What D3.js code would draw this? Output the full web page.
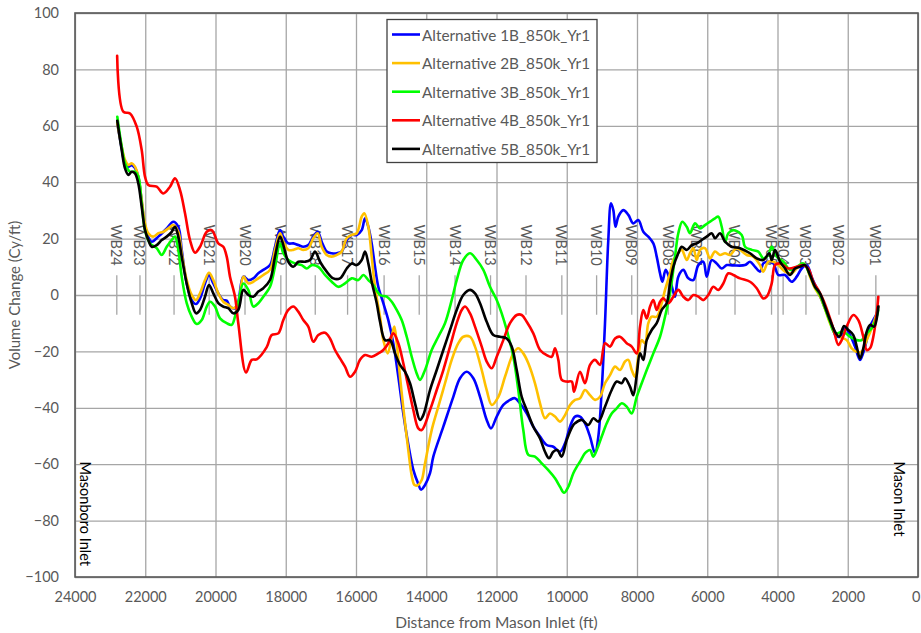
<!DOCTYPE html>
<html>
<head>
<meta charset="utf-8">
<script src="https://cdn.jsdelivr.net/npm/d3@7"></script>
<style>
  html, body { margin: 0; padding: 0; background: #fff; }
  svg { display: block; font-family: Lato, "Open Sans", sans-serif; }
</style>
</head>
<body>
<svg id="chart" width="921" height="633"></svg>
<script>
// Volume change profiles along the island, distance measured from Mason Inlet (ft)
// Each series: [distance (ft), volume change (cy/ft)]
const alt1B = [
  [22796,61],[22670,52],[22576,46.5],[22482,45.5],[22386,46],[22292,45],[22198,42],[22101,33],[22007,24.5],[21913,20.5],
  [21816,18.9],[21628,20.7],[21389,23.6],[21201,26],[21059,24.2],[20962,16],[20820,4.1],[20677,-1.8],[20555,-3.2],[20441,-1.2],
  [20299,4.1],[20185,7.1],[20062,4.1],[19920,0.6],[19778,-1.8],[19681,-2],[19587,-4.1],[19445,-4.7],[19351,-2.4],[19208,6.5],
  [19066,5.3],[18924,5.9],[18781,7.7],[18639,8.9],[18448,10.6],[18306,17.1],[18163,23],[18069,20.7],[17927,18.3],[17785,18.3],
  [17642,17.7],[17500,17.1],[17358,17.7],[17215,20.7],[17090,22.4],[16977,18.9],[16834,15.4],[16691,14.8],[16549,14.8],[16407,15.4],
  [16264,19.5],[16122,21.3],[15980,21.3],[15837,23],[15743,27.2],[15649,24.2],[15553,18.3],[15459,10],[15365,2.9],[15222,-2.9],
  [15080,-8.9],[14938,-17.1],[14795,-29],[14653,-42],[14511,-53],[14368,-62],[14226,-67],[14149,-69],[14035,-67.4],[13893,-63.2],
  [13799,-57.3],[13514,-46.7],[13230,-36.1],[13039,-29.5],[12848,-27.2],[12660,-29.5],[12469,-36.1],[12279,-44.3],[12156,-47.3],[11994,-43.1],
  [11806,-39],[11615,-37.2],[11473,-36.6],[11331,-38.4],[11140,-42],[10952,-46.7],[10761,-50.2],[10570,-53.2],[10383,-53.8],[10192,-55.6],
  [10049,-52.6],[9907,-46.7],[9765,-43.1],[9622,-43.1],[9480,-45.5],[9338,-50.2],[9195,-56.1],[9101,-50.2],[9005,-33.7],[8911,-10],
  [8817,19.5],[8740,32.5],[8674,30.1],[8612,24.2],[8532,27.8],[8390,30.1],[8247,28.4],[8105,25.4],[7963,26.6],[7820,22.4],
  [7678,20.7],[7535,18.3],[7439,13.6],[7345,7.7],[7279,4.7],[7183,8.9],[7060,5.3],[6983,1.8],[6918,-0.6],[6824,6.5],
  [6681,8.9],[6539,5.9],[6397,5.3],[6254,10.6],[6112,11.8],[6015,6.5],[5873,12.4],[5731,11.2],[5588,9.4],[5444,10.6],
  [5258,10.5],[4925,10.6],[4782,11.8],[4640,10],[4498,8.3],[4404,11.2],[4261,11.8],[4119,11.2],[3976,7.1],[3786,7.1],
  [3595,4.7],[3453,6.5],[3311,9.4],[3168,10.6],[3017,6],[2875,2],[2733,-2],[2590,-6.5],[2448,-11],[2334,-14.5],
  [2220,-14.8],[2078,-11.8],[1935,-14.2],[1793,-18.3],[1651,-23],[1508,-18.3],[1366,-11.2],[1175,-6.5],[1130,-4]
];

const alt2B = [
  [22796,60.9],[22670,52.6],[22576,47.9],[22482,46.1],[22386,46.7],[22292,45.5],[22198,42],[22101,33.7],[22007,25.4],[21913,21.9],
  [21771,20.7],[21628,21.9],[21486,22.4],[21344,23.6],[21201,24.8],[21059,22.4],[20962,14.8],[20820,5.3],[20677,0],[20555,-1.8],
  [20441,0.6],[20299,5.3],[20185,7.9],[20062,5.3],[19920,0.6],[19778,-2.4],[19635,-3.5],[19493,-4.7],[19351,-2.9],[19208,6.5],
  [19066,4.1],[18924,4.7],[18781,5.9],[18639,7.1],[18448,8.9],[18306,16],[18163,21.9],[18069,18.9],[17927,16],[17785,16],
  [17642,16.6],[17500,16],[17358,16.6],[17215,20.1],[17090,21.9],[16977,17.1],[16834,14.2],[16691,13.6],[16549,14.2],[16407,15.4],
  [16264,20.1],[16122,21.3],[15980,21.9],[15837,27.8],[15763,29],[15649,24.2],[15553,13.6],[15459,2.9],[15316,-7.7],[15222,-16],
  [15097,-20.7],[14983,-14.8],[14909,-11.2],[14841,-17.1],[14747,-29],[14653,-40],[14511,-55],[14414,-64],[14334,-67.4],[14235,-67.4],
  [14129,-65.6],[14035,-59.7],[13845,-47.9],[13657,-39.6],[13466,-31.3],[13275,-23],[13087,-17.1],[12945,-14.8],[12754,-14.8],[12612,-18.3],
  [12421,-26.6],[12279,-33.7],[12136,-39],[11948,-36.1],[11758,-29],[11521,-20.7],[11379,-18.9],[11237,-20.7],[11094,-24.2],[10904,-31.3],
  [10761,-38.4],[10619,-43.7],[10476,-42],[10334,-43.1],[10192,-44.9],[10049,-42.6],[9907,-39],[9765,-37.2],[9622,-36.6],[9480,-33.7],
  [9338,-35.5],[9195,-37.2],[9053,-36.1],[8911,-31.3],[8768,-28.4],[8626,-25.4],[8484,-26.6],[8341,-23.6],[8247,-23],[8150,-26.6],
  [8057,-29],[7963,-21.9],[7866,-16],[7772,-17.1],[7678,-10],[7581,-7.7],[7439,-7.7],[7296,-2.9],[7202,1.8],[7060,7.7],
  [6966,12.4],[6869,14.2],[6727,16],[6585,12.4],[6491,14.8],[6397,16.6],[6300,12.4],[6206,16],[6064,16.6],[5921,13],
  [5779,15.4],[5637,14.2],[5494,14.8],[5352,14.2],[5161,16.6],[4877,14.2],[4687,13.6],[4498,10.6],[4404,8.3],[4261,11.8],
  [4119,11.8],[3976,10.6],[3786,8.3],[3595,7.7],[3408,10],[3217,10.6],[3074,6.5],[2932,2.3],[2790,-0.5],[2647,-5],
  [2505,-10],[2363,-13.5],[2192,-15],[2030,-16],[1887,-18.9],[1745,-20.1],[1604,-20.1],[1460,-16],[1318,-11.8],[1175,-6.5],[1130,-4]
];

const alt3B = [
  [22796,63.2],[22670,52.6],[22576,46.7],[22434,43.7],[22292,43.7],[22198,42],[22101,32.5],[22007,23],[21864,18.3],[21674,16.6],
  [21531,14.2],[21389,17.1],[21247,19.5],[21153,20.7],[21059,16],[20962,6.5],[20820,-2.9],[20677,-7.7],[20535,-10.3],[20393,-8.9],
  [20250,-4.1],[20156,-2.4],[20014,-4.1],[19872,-8.3],[19681,-10],[19539,-10.6],[19445,-7.7],[19351,-2.9],[19208,4.1],[19066,1.8],
  [18924,-4.1],[18781,-2.9],[18639,-0.6],[18448,2.9],[18306,10],[18163,18.3],[18069,14.8],[17927,12.4],[17736,11.2],[17546,10.6],
  [17403,9.4],[17261,10.6],[17073,10],[16882,7.1],[16691,4.7],[16503,2.9],[16313,4.1],[16122,5.9],[15934,5.3],[15791,7.1],
  [15649,5.3],[15507,3.5],[15316,0],[15126,-0.6],[14983,-2.4],[14841,-5.3],[14699,-8.9],[14556,-14.8],[14414,-21.9],[14272,-27.8],
  [14178,-30.1],[14035,-26.6],[13845,-19.5],[13657,-14.8],[13466,-10],[13275,-1.8],[13133,5.3],[12945,12.4],[12754,14.8],[12563,12.4],
  [12375,8.9],[12185,2.9],[11994,-1.8],[11852,-6.5],[11709,-12.4],[11521,-21.9],[11379,-33.7],[11237,-47.9],[11094,-56.7],[10904,-57.3],
  [10713,-59.7],[10525,-62.1],[10334,-65],[10192,-68],[10078,-70.1],[9955,-68],[9813,-63.2],[9699,-60.6],[9622,-59.1],[9480,-56.1],
  [9338,-55],[9244,-57.3],[9147,-55],[9005,-50.2],[8862,-45.5],[8720,-42],[8578,-40.2],[8435,-38.4],[8293,-39.6],[8150,-42],
  [8008,-36.1],[7866,-31.3],[7723,-26.6],[7535,-20.7],[7345,-14.8],[7202,-7.7],[7060,0.6],[6918,13.6],[6824,21.9],[6710,26],
  [6585,24.2],[6491,21.9],[6348,25.4],[6206,23.6],[6064,24.8],[5921,26],[5779,27.2],[5685,27.8],[5588,24.2],[5494,18.8],
  [5400,21.9],[5258,23],[5019,21.3],[4925,17.1],[4734,16],[4546,15.4],[4404,13],[4261,14.2],[4165,17.1],[4022,13.6],
  [3834,11.8],[3644,8.9],[3453,10],[3265,11.2],[3074,7.1],[2932,2.9],[2790,0],[2647,-4.7],[2505,-9.5],[2363,-13.6],
  [2127,-13],[1935,-14.8],[1745,-16],[1604,-16],[1460,-13.6],[1318,-11.8],[1175,-7.7],[1130,-5.3]
];

const alt4B = [
  [22800,84.8],[22625,65],[22434,64.4],[22243,59.7],[22101,51.4],[22007,42],[21913,39],[21674,38.4],[21486,36],[21295,38.4],
  [21153,41.4],[21010,37.2],[20868,29],[20726,19.5],[20583,15],[20441,17.1],[20250,22.4],[20108,23],[19920,18.3],[19778,17.1],
  [19681,13.6],[19587,6.5],[19445,-0.6],[19351,-10],[19131,-27.5],[18969,-23],[18827,-22.8],[18542,-18.5],[18400,-14.2],[18212,-13.6],
  [18069,-8.9],[17927,-5.3],[17785,-4.1],[17642,-5.9],[17500,-8.9],[17358,-11.2],[17215,-16.6],[17073,-14.2],[16882,-13.4],[16740,-15.4],
  [16598,-19.5],[16455,-22.5],[16313,-25.4],[16170,-29],[16028,-27.2],[15886,-23],[15743,-21.3],[15553,-21.9],[15365,-20.7],[15222,-19.5],
  [15080,-17.1],[14938,-13.6],[14795,-17.1],[14653,-24.2],[14511,-32.5],[14368,-40.8],[14226,-47.3],[14129,-47.9],[13893,-40.8],[13702,-33.7],
  [13514,-26.6],[13323,-18.3],[13133,-10],[12990,-5.3],[12896,-4.1],[12754,-6.5],[12612,-11.2],[12421,-18.3],[12279,-23.6],[12136,-26],
  [11994,-21.9],[11806,-16],[11615,-10],[11424,-7.1],[11282,-7.1],[11140,-9.5],[10952,-13.6],[10761,-19.5],[10570,-21.3],[10428,-21.9],
  [10334,-18.9],[10240,-23],[10143,-30.1],[10001,-30.7],[9859,-30.7],[9793,-34.3],[9622,-27.2],[9480,-31.3],[9338,-24.8],[9195,-23],
  [9053,-24.8],[8911,-17.1],[8768,-18.3],[8626,-15.4],[8484,-14.8],[8293,-17.1],[8150,-18.3],[8008,-20.7],[7914,-11.2],[7820,-5.3],
  [7723,-8.3],[7629,-4.1],[7535,-1.8],[7439,-5.3],[7345,-2.4],[7251,-1.2],[7108,-2.9],[6966,-0.6],[6824,1.8],[6681,-0.6],
  [6539,-1.8],[6397,0],[6254,-0.6],[6112,-1.8],[5970,0],[5827,2.9],[5685,1.8],[5543,4.1],[5400,7.7],[5258,7.1],
  [5067,5.9],[4782,4.7],[4592,2.4],[4404,-1.2],[4307,-0.6],[4165,4.1],[4071,10.6],[3928,11.2],[3692,9.4],[3453,10],
  [3265,10.6],[3123,9.4],[2980,4.7],[2838,1.8],[2696,-1.8],[2553,-6.5],[2411,-11.8],[2269,-17.7],[2172,-16],[2030,-11.2],
  [1841,-7.1],[1699,-8.9],[1557,-14.8],[1460,-19.5],[1366,-18.9],[1272,-14.8],[1175,-6.5],[1130,-0.6]
];

const alt5B = [
  [22796,61.8],[22670,51.4],[22576,44.9],[22482,42.6],[22386,43.7],[22292,43.1],[22198,39.6],[22101,31.3],[22007,23],[21913,19.5],
  [21816,17.1],[21674,17.7],[21531,19.5],[21389,20.7],[21247,22.4],[21153,24.2],[21059,20.7],[20962,13.6],[20820,4.1],[20677,-2.9],
  [20555,-6.5],[20441,-5.3],[20299,-0.6],[20185,3.5],[20062,0.6],[19920,-2.9],[19778,-4.1],[19635,-4.7],[19493,-6.5],[19351,-5.3],
  [19208,1.8],[19066,0],[18924,-0.6],[18781,1.2],[18639,2.4],[18448,5.3],[18306,13.6],[18163,20.7],[18069,17.7],[17927,11.8],
  [17785,10],[17642,11.8],[17452,11.8],[17309,12.4],[17167,15.4],[17025,11.8],[16834,8.3],[16646,5.9],[16455,5.9],[16264,9.4],
  [16122,11.2],[15980,10.6],[15837,12.4],[15743,15.4],[15649,11.2],[15553,4.7],[15410,-2.9],[15316,-9.5],[15174,-16],[15032,-16],
  [14889,-20.7],[14747,-24.8],[14605,-27.2],[14462,-31.3],[14320,-38.4],[14178,-44.3],[14084,-42.6],[13893,-33.7],[13702,-26.6],[13514,-19.5],
  [13323,-12.4],[13133,-5.3],[12945,0],[12754,1.8],[12612,0.6],[12469,-2.9],[12279,-9.5],[12091,-14.2],[11900,-14.8],[11709,-15.4],
  [11567,-18.3],[11424,-26.6],[11282,-36.1],[11140,-40.8],[10952,-46.7],[10761,-50.9],[10619,-55.6],[10505,-57.9],[10383,-55.6],[10269,-55],
  [10143,-57.3],[10001,-51.4],[9813,-46.1],[9765,-45.5],[9574,-44.3],[9386,-46.1],[9244,-43.7],[9101,-44.9],[8911,-39.6],[8720,-33.7],
  [8578,-30.7],[8435,-31.3],[8341,-29.5],[8199,-32.5],[8105,-35.5],[8008,-28.4],[7914,-20.7],[7820,-23],[7723,-16],[7581,-12.4],
  [7439,-10],[7296,-5.3],[7154,-2.9],[7060,4.1],[6966,10],[6824,14.8],[6727,17.1],[6585,16],[6442,17.7],[6300,18.3],
  [6158,19.5],[6015,20.7],[5873,21.9],[5779,20.1],[5637,21.9],[5494,18.9],[5303,17.1],[5067,16.6],[4782,14.8],[4592,13],
  [4404,12.4],[4233,14.8],[4165,12.4],[4071,16],[3928,11.8],[3786,9.4],[3644,7.1],[3501,9.4],[3359,10],[3217,10.6],
  [3074,7.1],[2932,2.9],[2790,0.6],[2647,-4.1],[2505,-8.9],[2363,-13],[2240,-14.8],[2106,-11],[1984,-12.4],[1841,-14.2],
  [1745,-18.3],[1651,-22.5],[1557,-18.9],[1460,-13],[1366,-10.6],[1252,-11.2],[1130,-4.1]
];

const seriesNames = [
  "Alternative 1B_850k_Yr1", "Alternative 2B_850k_Yr1", "Alternative 3B_850k_Yr1",
  "Alternative 4B_850k_Yr1", "Alternative 5B_850k_Yr1"
];
const seriesColors = ["#0000ff", "#ffc000", "#00ff00", "#ff0000", "#000000"];

// Wrightsville Beach profile stations
const stationNames = ["WB24","WB23","WB22","WB21","WB20","WB19","WB18","WB17","WB16","WB15","WB14","WB13",
                      "WB12","WB11","WB10","WB09","WB08","WB07","WB06","WB05","WB04","WB03","WB02","WB01"];
const stationDist = [22810,22150,21180,20180,19160,18140,17160,16240,15200,14200,13180,12170,
                     11160,10140,9150,8150,7110,6320,5210,4170,3840,3190,2250,1200];

// Inlet annotations at each end of the reach
const inletNames = ["Masonboro Inlet", "Mason Inlet"];
const inletDist = [23690, 540];

const xTicks = d3.range(24000, -1, -2000);
const yTicks = d3.range(-100, 101, 20);

const svg = d3.select("#chart");
const margin = { left: 75, right: 3, top: 13, bottom: 56 };
const W = 921, H = 633;

const x = d3.scaleLinear().domain([24000, 0]).range([margin.left, W - margin.right]);
const y = d3.scaleLinear().domain([-100, 100]).range([H - margin.bottom, margin.top]);

const gridColor = "#a6a6a6";
const textColor = "#595959";

// gridlines
svg.append("g")
  .attr("transform", `translate(0,${y(-100)})`)
  .call(d3.axisBottom(x).tickValues(xTicks).tickSize(-(y(-100) - y(100))).tickFormat(""))
  .call(g => g.select(".domain").remove())
  .call(g => g.selectAll("line").attr("stroke", gridColor).attr("stroke-width", 1.3));

svg.append("g")
  .attr("transform", `translate(${x(24000)},0)`)
  .call(d3.axisLeft(y).tickValues(yTicks).tickSize(-(x(0) - x(24000))).tickFormat(""))
  .call(g => g.select(".domain").remove())
  .call(g => g.selectAll("line").attr("stroke", gridColor).attr("stroke-width", 1.3));

// plot frame
svg.append("rect")
  .attr("x", x(24000)).attr("y", y(100))
  .attr("width", x(0) - x(24000)).attr("height", y(-100) - y(100))
  .attr("fill", "none").attr("stroke", "#595959").attr("stroke-width", 1.6);

// tick labels
const xAxis = svg.append("g")
  .attr("transform", `translate(0,${y(-100)})`)
  .call(d3.axisBottom(x).tickValues(xTicks).tickSize(0).tickPadding(15).tickFormat(d3.format("d")));
xAxis.select(".domain").remove();
xAxis.selectAll("text").attr("fill", textColor).attr("font-size", 14.5).attr("font-family", "Lato, sans-serif");
// keep the last label (at the right edge of the frame) inside the canvas
xAxis.selectAll(".tick").filter(d => d === 0).select("text").attr("text-anchor", "end").attr("dx", 2);

const yAxis = svg.append("g")
  .attr("transform", `translate(${x(24000)},0)`)
  .call(d3.axisLeft(y).tickValues(yTicks).tickSize(0).tickPadding(16).tickFormat(d3.format("d")));
yAxis.select(".domain").remove();
yAxis.selectAll("text").attr("fill", textColor).attr("font-size", 14.5).attr("font-family", "Lato, sans-serif");

// axis titles
svg.append("text")
  .attr("x", (x(24000) + x(0)) / 2).attr("y", 628)
  .attr("text-anchor", "middle").attr("fill", textColor).attr("font-size", 15.5)
  .text("Distance from Mason Inlet (ft)");

svg.append("text")
  .attr("transform", `translate(20,${(y(100) + y(-100)) / 2}) rotate(-90)`)
  .attr("text-anchor", "middle").attr("fill", textColor).attr("font-size", 15)
  .text("Volume Change (Cy/ft)");

// station markers: short vertical bar and rotated name
const stations = svg.append("g");
stationNames.forEach((name, i) => {
  const sx = x(stationDist[i]);
  stations.append("line")
    .attr("x1", sx).attr("x2", sx).attr("y1", y(7)).attr("y2", y(-7))
    .attr("stroke", gridColor).attr("stroke-width", 1.3);
  stations.append("text")
    .attr("transform", `translate(${sx},${y(25)}) rotate(90)`)
    .attr("dominant-baseline", "central").attr("fill", textColor).attr("font-size", 14.5)
    .text(name);
});

// inlet annotations
inletNames.forEach((name, i) => {
  svg.append("text")
    .attr("transform", `translate(${x(inletDist[i])},${y(-59)}) rotate(90)`)
    .attr("dominant-baseline", "central").attr("fill", "#000").attr("font-size", 14.5)
    .text(name);
});

// series lines
const allSeries = [alt1B, alt2B, alt3B, alt4B, alt5B];
const line = d3.line()
  .x(d => x(d[0])).y(d => y(d[1]))
  .curve(d3.curveCatmullRom.alpha(0.5));

allSeries.forEach((data, i) => {
  svg.append("path")
    .datum(data)
    .attr("d", line)
    .attr("fill", "none")
    .attr("stroke", seriesColors[i])
    .attr("stroke-width", 2.6)
    .attr("stroke-linejoin", "round")
    .attr("stroke-linecap", "round");
});

// legend
const legend = svg.append("g").attr("transform", "translate(387,19.5)");
legend.append("rect")
  .attr("width", 210).attr("height", 143)
  .attr("fill", "#fff").attr("stroke", "#404040").attr("stroke-width", 1.3);
seriesNames.forEach((name, i) => {
  const ly = 15 + i * 28.6;
  legend.append("line")
    .attr("x1", 5).attr("x2", 33).attr("y1", ly).attr("y2", ly)
    .attr("stroke", seriesColors[i]).attr("stroke-width", 2.6);
  legend.append("text")
    .attr("x", 35).attr("y", ly).attr("dominant-baseline", "central")
    .attr("fill", textColor).attr("font-size", 15.3)
    .text(name);
});
</script>
</body>
</html>
